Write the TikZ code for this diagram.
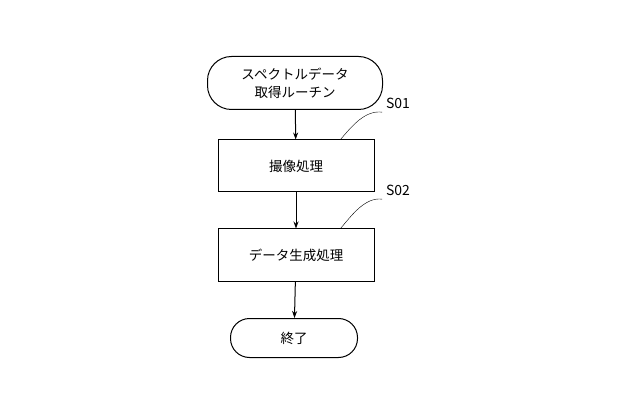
\documentclass[tikz,border=0pt]{standalone}
\usepackage{fontspec}
\newfontfamily\jpfont{Noto Sans CJK JP}
\usetikzlibrary{arrows.meta}
\tikzset{
  term/.style={draw, rounded corners=24pt, minimum width=175pt, minimum height=53pt, align=center, font=\jpfont\fontsize{13.5}{18}\selectfont},
  proc/.style={draw, minimum width=156pt, minimum height=52pt, font=\jpfont\fontsize{13.5}{16}\selectfont},
  stepnum/.style={font=\jpfont\fontsize{14}{16}\selectfont}
}
\begin{document}
\begin{tikzpicture}[x=1pt, y=-1pt, >={Stealth[length=7pt,width=5pt]}, line width=1pt]
  \useasboundingbox (0,0) rectangle (640,414);
  \node (start) [term] at (295,83) {スペクトルデータ\\取得ルーチン};
  \node (shoot) [proc] at (296,166) {撮像処理};
  \node (gen) [proc] at (296,255) {データ生成処理};
  \node (end) [term, minimum width=127pt, minimum height=39pt, rounded corners=19pt] at (294,338) {終了};
  \node (s01) [stepnum] at (398,103) {S01};
  \node (s02) [stepnum] at (398,190) {S02};

  \draw [->] (start) -- (shoot);
  \draw [->] (shoot) -- (gen);
  \draw [->] (gen) -- (end);

  % leaders to step numbers
  \draw [thin] (shoot.north east) ++(-34,0) .. controls (352,126) and (365,110) .. (s01.south west);
  \draw [thin] (gen.north east) ++(-34,0) .. controls (352,215) and (365,197) .. (s02.south west);
\end{tikzpicture}
\end{document}
